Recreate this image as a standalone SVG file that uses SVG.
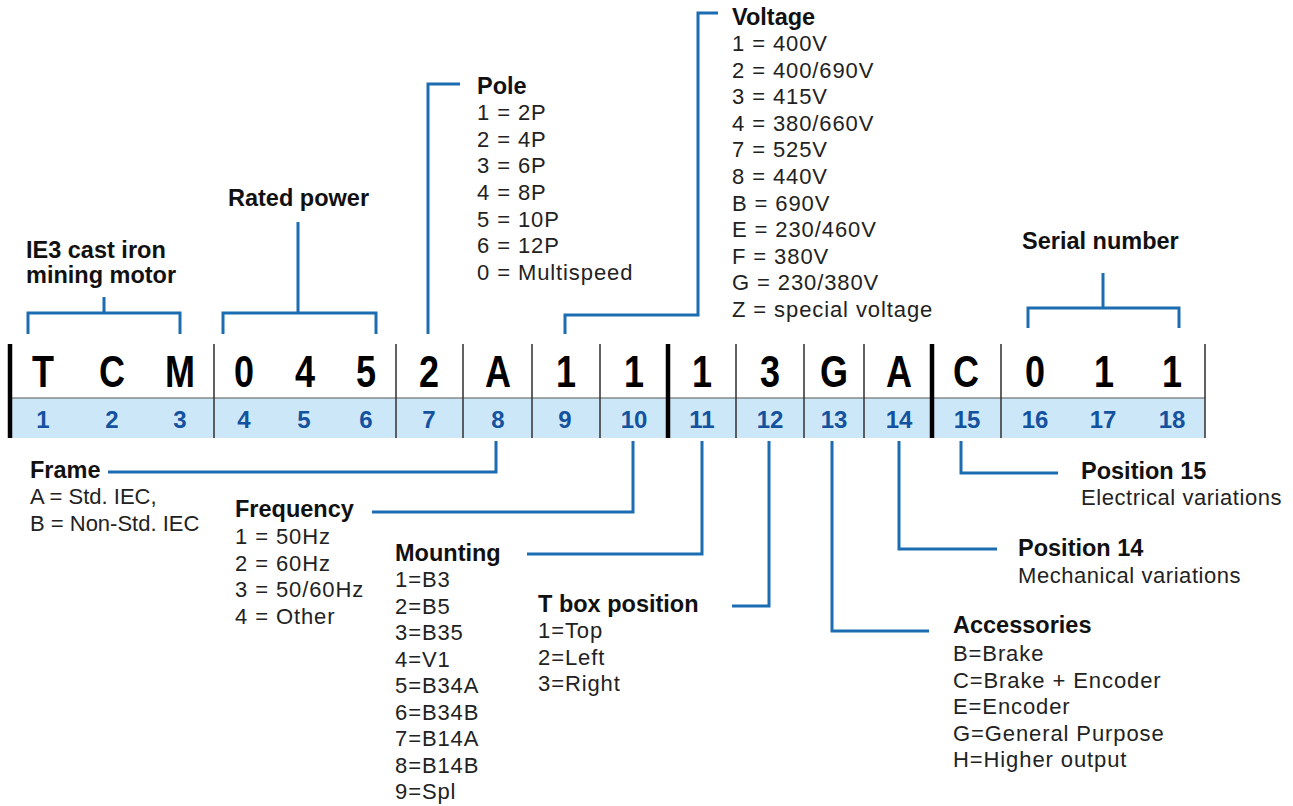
<svg xmlns="http://www.w3.org/2000/svg" width="1293" height="806" viewBox="0 0 1293 806">
<style>
text{font-family:"Liberation Sans",Arial,sans-serif}
.t{font-weight:bold;font-size:23.5px;fill:#111}
.i{font-size:22px;fill:#222;letter-spacing:0.9px}
.s{font-size:22px;fill:#222;letter-spacing:0.55px}
.f{font-size:22px;fill:#222}
.code{font-weight:bold;font-size:45px;fill:#000;text-anchor:middle}
.num{font-weight:bold;font-size:24px;fill:#1452a0;text-anchor:middle}
.con{fill:none;stroke:#1b6cb0;stroke-width:3}
.thin{stroke:#3a3a3a;stroke-width:1.6}
.thick{stroke:#000;stroke-width:4.5}
</style>
<rect width="1293" height="806" fill="#fff"/>

<g id="code-row">
  <rect x="12" y="398" width="1193" height="40" fill="#cce8f8"/>
  <line x1="12" y1="398" x2="1205" y2="398" stroke="#555" stroke-width="1.2"/>
  <g class="thin">
    <line x1="214" y1="344" x2="214" y2="438"/>
    <line x1="396" y1="344" x2="396" y2="438"/>
    <line x1="463" y1="344" x2="463" y2="438"/>
    <line x1="532" y1="344" x2="532" y2="438"/>
    <line x1="600" y1="344" x2="600" y2="438"/>
    <line x1="736" y1="344" x2="736" y2="438"/>
    <line x1="804" y1="344" x2="804" y2="438"/>
    <line x1="864" y1="344" x2="864" y2="438"/>
    <line x1="1001" y1="344" x2="1001" y2="438"/>
    <line x1="1205" y1="344" x2="1205" y2="438"/>
  </g>
  <g class="thick">
    <line x1="10" y1="344" x2="10" y2="438"/>
    <line x1="668" y1="344" x2="668" y2="438"/>
    <line x1="932" y1="344" x2="932" y2="438"/>
  </g>
  <g class="code">
    <text transform="translate(43,387) scale(0.8,1)">T</text>
    <text transform="translate(112,387) scale(0.8,1)">C</text>
    <text transform="translate(180,387) scale(0.8,1)">M</text>
    <text transform="translate(244,387) scale(0.8,1)">0</text>
    <text transform="translate(305,387) scale(0.8,1)">4</text>
    <text transform="translate(366,387) scale(0.8,1)">5</text>
    <text transform="translate(429,387) scale(0.8,1)">2</text>
    <text transform="translate(498,387) scale(0.8,1)">A</text>
    <text transform="translate(566,387) scale(0.8,1)">1</text>
    <text transform="translate(634,387) scale(0.8,1)">1</text>
    <text transform="translate(702,387) scale(0.8,1)">1</text>
    <text transform="translate(770,387) scale(0.8,1)">3</text>
    <text transform="translate(834,387) scale(0.8,1)">G</text>
    <text transform="translate(899,387) scale(0.8,1)">A</text>
    <text transform="translate(966,387) scale(0.8,1)">C</text>
    <text transform="translate(1035,387) scale(0.8,1)">0</text>
    <text transform="translate(1104,387) scale(0.8,1)">1</text>
    <text transform="translate(1172,387) scale(0.8,1)">1</text>
  </g>
  <g class="num">
    <text x="43" y="428">1</text>
    <text x="112" y="428">2</text>
    <text x="180" y="428">3</text>
    <text x="244" y="428">4</text>
    <text x="304" y="428">5</text>
    <text x="366" y="428">6</text>
    <text x="429" y="428">7</text>
    <text x="498" y="428">8</text>
    <text x="565" y="428">9</text>
    <text x="634" y="428">10</text>
    <text x="702" y="428">11</text>
    <text x="770" y="428">12</text>
    <text x="834" y="428">13</text>
    <text x="899" y="428">14</text>
    <text x="967" y="428">15</text>
    <text x="1035" y="428">16</text>
    <text x="1103" y="428">17</text>
    <text x="1172" y="428">18</text>
  </g>
</g>

<g id="connectors">
  <path class="con" d="M28,334 V313 H180 V334 M104,297 V313"/>
  <path class="con" d="M223,334 V313 H376 V334 M298,222 V313"/>
  <path class="con" d="M428,334 V84 H460"/>
  <path class="con" d="M565,334 V315 H698 V13 H718"/>
  <path class="con" d="M1028,328 V308 H1179 V328 M1103,273 V308"/>
  <path class="con" d="M496,441 V472 H108"/>
  <path class="con" d="M633,441 V512 H372"/>
  <path class="con" d="M702,441 V554 H527"/>
  <path class="con" d="M769,441 V606 H732"/>
  <path class="con" d="M832,441 V631 H929"/>
  <path class="con" d="M899,441 V549 H997"/>
  <path class="con" d="M961,441 V473 H1058"/>
</g>

<g id="ie3">
  <text class="t" x="26" y="258">IE3 cast iron</text>
  <text class="t" x="26" y="283">mining motor</text>
</g>
<g id="rated-power">
  <text class="t" x="228" y="206">Rated power</text>
</g>
<g id="pole">
  <text class="t" x="477" y="94">Pole</text>
  <text class="i" x="477" y="120">1 = 2P</text>
  <text class="i" x="477" y="146.7">2 = 4P</text>
  <text class="i" x="477" y="173.3">3 = 6P</text>
  <text class="i" x="477" y="200">4 = 8P</text>
  <text class="i" x="477" y="226.7">5 = 10P</text>
  <text class="i" x="477" y="253.3">6 = 12P</text>
  <text class="i" x="477" y="280">0 = Multispeed</text>
</g>
<g id="voltage">
  <text class="t" x="732" y="25">Voltage</text>
  <text class="i" x="732" y="51">1 = 400V</text>
  <text class="i" x="732" y="77.6">2 = 400/690V</text>
  <text class="i" x="732" y="104.2">3 = 415V</text>
  <text class="i" x="732" y="130.8">4 = 380/660V</text>
  <text class="i" x="732" y="157.4">7 = 525V</text>
  <text class="i" x="732" y="184">8 = 440V</text>
  <text class="i" x="732" y="210.6">B = 690V</text>
  <text class="i" x="732" y="237.2">E = 230/460V</text>
  <text class="i" x="732" y="263.8">F = 380V</text>
  <text class="i" x="732" y="290.4">G = 230/380V</text>
  <text class="i" x="732" y="317">Z = special voltage</text>
</g>
<g id="serial-number">
  <text class="t" x="1022" y="249">Serial number</text>
</g>
<g id="frame">
  <text class="t" x="30" y="478">Frame</text>
  <text class="f" x="30" y="504">A = Std. IEC,</text>
  <text class="f" x="30" y="531">B = Non-Std. IEC</text>
</g>
<g id="frequency">
  <text class="t" x="235" y="517">Frequency</text>
  <text class="i" x="235" y="544">1 = 50Hz</text>
  <text class="i" x="235" y="570.5">2 = 60Hz</text>
  <text class="i" x="235" y="597">3 = 50/60Hz</text>
  <text class="i" x="235" y="623.5">4 = Other</text>
</g>
<g id="mounting">
  <text class="t" x="395" y="561">Mounting</text>
  <text class="i" x="395" y="587">1=B3</text>
  <text class="i" x="395" y="613.5">2=B5</text>
  <text class="i" x="395" y="640">3=B35</text>
  <text class="i" x="395" y="666.5">4=V1</text>
  <text class="i" x="395" y="693">5=B34A</text>
  <text class="i" x="395" y="719.5">6=B34B</text>
  <text class="i" x="395" y="746">7=B14A</text>
  <text class="i" x="395" y="772.5">8=B14B</text>
  <text class="i" x="395" y="799">9=Spl</text>
</g>
<g id="t-box-position">
  <text class="t" x="538" y="612">T box position</text>
  <text class="i" x="538" y="638">1=Top</text>
  <text class="i" x="538" y="664.5">2=Left</text>
  <text class="i" x="538" y="691">3=Right</text>
</g>
<g id="accessories">
  <text class="t" x="953" y="633">Accessories</text>
  <text class="i" x="953" y="661">B=Brake</text>
  <text class="i" x="953" y="687.5">C=Brake + Encoder</text>
  <text class="i" x="953" y="714">E=Encoder</text>
  <text class="i" x="953" y="740.5">G=General Purpose</text>
  <text class="i" x="953" y="767">H=Higher output</text>
</g>
<g id="position-14">
  <text class="t" x="1018" y="556">Position 14</text>
  <text class="s" x="1018" y="583">Mechanical variations</text>
</g>
<g id="position-15">
  <text class="t" x="1081" y="479">Position 15</text>
  <text class="s" x="1081" y="505">Electrical variations</text>
</g>
</svg>
